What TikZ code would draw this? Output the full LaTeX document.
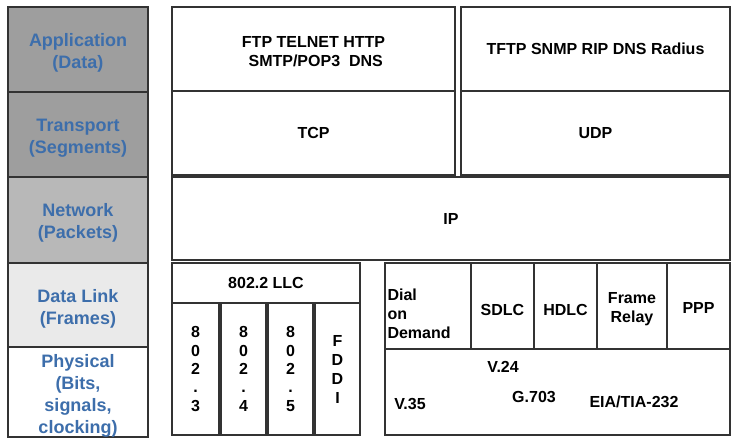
\documentclass[tikz,border=0pt]{standalone}
\usepackage{fontspec}
\setmainfont{Liberation Sans}
\usepackage{tikz}
\usetikzlibrary{shapes,arrows}
\usepackage{color}

\definecolor{laytext}{HTML}{3D6EAB}
\definecolor{darkgray}{HTML}{9E9E9E}
\definecolor{midgray}{HTML}{B8B8B8}
\definecolor{lightgray}{HTML}{EAEAEA}
\definecolor{edgecol}{HTML}{333333}

\begin{document}
\begin{tikzpicture}[x=1pt,y=-1pt]
\tikzstyle{every node}=[inner sep=0pt,outer sep=0pt]
\tikzstyle{layer}=[rectangle,draw=edgecol,line width=1.3pt,align=center,text=laytext,
  font=\fontsize{18}{22}\selectfont\bfseries,minimum width=140pt]
\tikzstyle{proto}=[rectangle,draw=edgecol,line width=1.3pt,align=center,
  font=\fontsize{16}{19}\selectfont\bfseries]
\tikzstyle{stack}=[proto,minimum height=132pt,font=\fontsize{16}{18.3}\selectfont\bfseries]
\tikzstyle{plain}=[font=\fontsize{16}{19}\selectfont\bfseries]

\useasboundingbox (0,0) rectangle (738,442);

% layers
\node[layer,fill=darkgray,minimum height=85pt] (App) at (78,49.5) {\\[-3pt]Application\\(Data)};
\node[layer,fill=darkgray,minimum height=85pt] (Trans) at (78,134.5) {\\[-3pt]Transport\\(Segments)};
\node[layer,fill=midgray,minimum height=86pt] (Net) at (78,220) {\\[-3pt]Network\\(Packets)};
\node[layer,fill=lightgray,minimum height=86pt] (Link) at (78,306) {\\[-3pt]Data Link\\(Frames)};
\node[layer,fill=white,minimum height=86pt] (Phys) at (78,392) {\\[-2pt]Physical\\(Bits,\\signals,\\clocking)};

% upper protocols
\node[proto,minimum width=283pt,minimum height=84pt] (Tcpapp) at (313.5,49) {\\[-2pt]FTP TELNET HTTP\\ \ SMTP/POP3\ \ DNS};
\node[proto,minimum width=269pt,minimum height=84pt] (Udpapp) at (595.5,49) {TFTP SNMP RIP DNS Radius};
\node[proto,minimum width=283pt,minimum height=84pt] (Tcp) at (313.5,133) {TCP};
\node[proto,minimum width=269pt,minimum height=84pt] (Udp) at (595.5,133) {UDP};
\node[proto,minimum width=558pt,minimum height=83pt] (Ip) at (451,218.5) {IP};

% LAN side
\node[proto,minimum width=188pt,minimum height=40pt] (Llc) at (266,283) {802.2 LLC};
\node[stack,minimum width=47pt] (Eth) at (195.5,369) {8\\0\\2\\.\\3};
\node[stack,minimum width=45pt] (Token) at (243.5,369) {8\\0\\2\\.\\4};
\node[stack,minimum width=45pt] (Ring) at (290.5,369) {8\\0\\2\\.\\5};
\node[stack,minimum width=45pt,font=\fontsize{16}{19}\selectfont\bfseries] (Fddi) at (337.5,369) {F\\D\\D\\I};

% WAN side
\node[proto,minimum width=86pt,minimum height=86pt,align=left,text width=81pt] (Dial) at (428,306) {\\[8pt]Dial\\on\\Demand};
\node[proto,minimum width=63pt,minimum height=86pt] (Sdlc) at (502.5,306) {\\[0pt]SDLC};
\node[proto,minimum width=63pt,minimum height=86pt] (Hdlc) at (565.5,306) {\\[0pt]HDLC};
\node[proto,minimum width=70pt,minimum height=86pt] (Frame) at (632,306) {\\[-1pt]Frame\\Relay};
\node[proto,minimum width=63pt,minimum height=86pt] (Ppp) at (698.5,306) {\\[-5pt]PPP};
\node[proto,minimum width=345pt,minimum height=86pt] (Wan) at (557.5,392) {};

\node[plain] (V24) at (503,367) {V.24};
\node[plain] (V35) at (410,404) {V.35};
\node[plain] (G703) at (534,397) {G.703};
\node[plain] (Eia) at (634,402) {EIA/TIA-232};

\end{tikzpicture}
\end{document}
